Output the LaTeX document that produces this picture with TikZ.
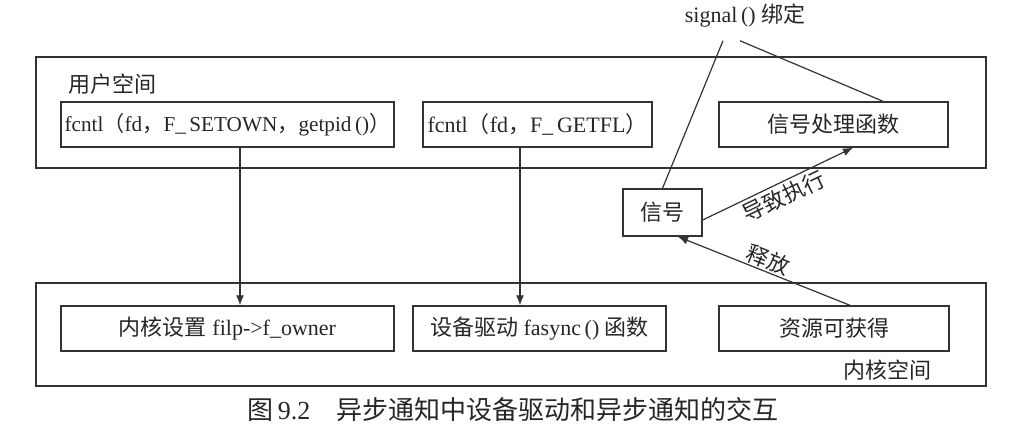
\documentclass[tikz,border=0pt]{standalone}
\usepackage{fontspec}
\setmainfont{Liberation Serif}
\newfontfamily\cjk{Noto Sans CJK SC}
\usetikzlibrary{arrows.meta}

\begin{document}
\begin{tikzpicture}[x=0.5pt,y=-0.5pt,
  every node/.style={font=\fontsize{11}{13}\selectfont,text=black!85},
  space/.style={draw=black!80,line width=0.9pt,minimum width=475pt,inner sep=0pt},
  box/.style={draw=black!80,line width=0.7pt,minimum height=22.5pt,inner sep=0pt},
  arr/.style={-{Latex[length=5pt,width=4pt]},draw=black!80,line width=0.6pt}]
  \useasboundingbox (0,0) rectangle (1027,434);
  % the two spaces
  \node[space,minimum height=55.5pt] (user) at (511,112.5) {};
  \node[space,minimum height=51.5pt] (kernel) at (511,334.5) {};
  \node[anchor=west] (usertxt) at (61,84) {\cjk 用户空间};
  \node[anchor=east] (kerneltxt) at (939,370) {\cjk 内核空间};
  % user space
  \node[box,minimum width=166.5pt,font=\fontsize{10.6}{13}\selectfont] (setown) at (227.5,124.5)
    {fcntl{\cjk （}fd{\cjk ，}F\_\,SETOWN{\cjk ，}getpid\,(){\cjk ）}};
  \node[box,minimum width=114.5pt] (getfl) at (537.5,124.5)
    {fcntl{\cjk （}fd{\cjk ，}F\_\,GETFL{\cjk ）}};
  \node[box,minimum width=114.5pt] (handler) at (833.5,124.5) {\cjk 信号处理函数};
  % kernel space
  \node[box,minimum width=166.5pt] (owner) at (227.5,328.5)
    {{\cjk 内核设置} filp->f\_owner};
  \node[box,minimum width=126.5pt] (fasync) at (539.5,328.5)
    {{\cjk 设备驱动} fasync\,() {\cjk 函数}};
  \node[box,minimum width=115pt] (ready) at (834,328.5) {\cjk 资源可获得};
  % signal
  \node[box,minimum width=39.5pt,minimum height=23.5pt] (sig) at (662.5,212.5) {\cjk 信号};
  \node (bind) at (745,16) {signal\,() {\cjk 绑定}};
  \draw[black!80,line width=0.6pt] ([xshift=-11pt,yshift=-3pt]bind.south) -- (sig.north);
  \draw[black!80,line width=0.6pt] ([xshift=-2.5pt,yshift=-3pt]bind.south) -- ([xshift=24.75pt]handler.north);
  \draw[arr] ([xshift=6.25pt]setown.south) -- ([xshift=6.25pt]setown.south |- owner.north);
  \draw[arr] ([xshift=-8.75pt]getfl.south) -- ([xshift=-8.75pt]getfl.south |- fasync.north);
  \draw[arr] ([yshift=-3.75pt]sig.east) -- ([xshift=9.75pt]handler.south)
    node[midway,sloped,below,inner sep=1.5pt] {\cjk 导致执行};
  \draw[arr] ([xshift=8pt]ready.north) -- ([xshift=7.75pt]sig.south)
    node[midway,sloped,above,inner sep=0.5pt] {\cjk 释放};
  \node (caption) at (513,410) {\fontsize{13}{15}\selectfont{\cjk 图}\,9.2\quad{\cjk 异步通知中设备驱动和异步通知的交互}};
\end{tikzpicture}
\end{document}
